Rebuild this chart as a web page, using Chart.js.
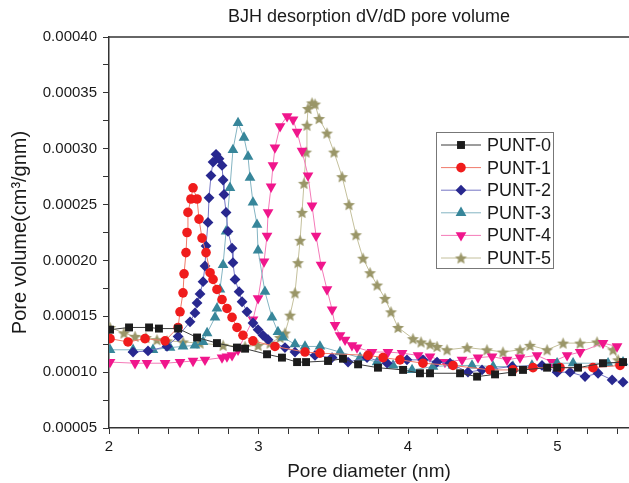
<!DOCTYPE html>
<html>
<head>
<meta charset="utf-8">
<script src="https://cdn.jsdelivr.net/npm/chart.js@4.4.0/dist/chart.umd.min.js"></script>
<style>
  html, body { margin: 0; padding: 0; background: #fff; }
</style>
</head>
<body>
<canvas id="chart" width="629" height="483"></canvas>
<script>
var seriesNames = ['PUNT-0', 'PUNT-1', 'PUNT-2', 'PUNT-3', 'PUNT-4', 'PUNT-5'];

var punt0X = [2.007, 2.134, 2.268, 2.334, 2.462, 2.589, 2.722, 2.856, 2.910, 3.057, 3.157, 3.258, 3.318, 3.465, 3.565,
  3.666, 3.799, 3.967, 4.080, 4.147, 4.348, 4.462, 4.582, 4.696, 4.769, 4.930, 4.997, 5.137, 5.304, 5.438];
var punt0Y = [0.000138, 0.000140, 0.000140, 0.000139, 0.000139, 0.000131, 0.000126, 0.000122, 0.000121, 0.000116, 0.000113,
  0.000109, 0.000109, 0.000110, 0.000112, 0.000107, 0.000104, 0.000102, 0.000099, 0.000099, 0.000099, 0.000096, 0.000098,
  0.000100, 0.000102, 0.000104, 0.000104, 0.000104, 0.000108, 0.000109];

var punt1X = [2.007, 2.127, 2.241, 2.375, 2.462, 2.475, 2.495, 2.502, 2.515, 2.522, 2.528, 2.548, 2.562, 2.589, 2.602,
  2.622, 2.649, 2.676, 2.696, 2.722, 2.756, 2.789, 2.823, 2.856, 2.896, 2.963, 3.110, 3.311, 3.411, 3.732, 3.833, 3.946,
  4.100, 4.301, 4.548, 4.702, 4.836, 5.017, 5.237, 5.418];
var punt1Y = [0.000130, 0.000127, 0.000130, 0.000128, 0.000140, 0.000154, 0.000171, 0.000188, 0.000207, 0.000225, 0.000243,
  0.000255, 0.000265, 0.000255, 0.000237, 0.000220, 0.000207, 0.000189, 0.000183, 0.000174, 0.000165, 0.000157, 0.000149,
  0.000140, 0.000133, 0.000128, 0.000123, 0.000118, 0.000117, 0.000115, 0.000113, 0.000111, 0.000108, 0.000106, 0.000102,
  0.000102, 0.000104, 0.000104, 0.000104, 0.000106];

var punt2X = [2.161, 2.261, 2.388, 2.462, 2.542, 2.575, 2.589, 2.609, 2.629, 2.642, 2.649, 2.662, 2.669, 2.682, 2.696,
  2.716, 2.736, 2.756, 2.763, 2.769, 2.783, 2.796, 2.823, 2.829, 2.843, 2.870, 2.890, 2.923, 2.963, 2.997, 3.030, 3.064,
  3.177, 3.244, 3.378, 3.492, 3.599, 3.726, 3.860, 3.993, 4.100, 4.194, 4.281, 4.401, 4.495, 4.696, 4.896, 4.997, 5.084,
  5.184, 5.271, 5.365, 5.438];
var punt2Y = [0.000118, 0.000119, 0.000123, 0.000132, 0.000145, 0.000153, 0.000162, 0.000170, 0.000181, 0.000195, 0.000213,
  0.000234, 0.000256, 0.000276, 0.000288, 0.000295, 0.000291, 0.000285, 0.000272, 0.000259, 0.000243, 0.000226, 0.000211,
  0.000198, 0.000183, 0.000172, 0.000163, 0.000154, 0.000144, 0.000138, 0.000133, 0.000129, 0.000122, 0.000118, 0.000115,
  0.000113, 0.000109, 0.000113, 0.000108, 0.000111, 0.000111, 0.000109, 0.000108, 0.000100, 0.000102, 0.000105, 0.000106,
  0.000100, 0.000100, 0.000096, 0.000099, 0.000093, 0.000091];

var punt3X = [2.007, 2.161, 2.294, 2.408, 2.495, 2.575, 2.629, 2.656, 2.709, 2.722, 2.742, 2.763, 2.783, 2.809, 2.829,
  2.863, 2.903, 2.930, 2.943, 2.963, 2.990, 2.997, 3.043, 3.090, 3.130, 3.164, 3.244, 3.311, 3.411, 3.545, 3.679, 3.793,
  3.900, 4.027, 4.167, 4.301, 4.428, 4.569, 4.702, 4.829, 4.997, 5.104, 5.338, 5.438];
var punt3Y = [0.000120, 0.000120, 0.000120, 0.000122, 0.000123, 0.000124, 0.000127, 0.000135, 0.000149, 0.000157, 0.000174,
  0.000196, 0.000226, 0.000265, 0.000299, 0.000323, 0.000310, 0.000293, 0.000274, 0.000252, 0.000232, 0.000209, 0.000172,
  0.000149, 0.000136, 0.000131, 0.000125, 0.000123, 0.000123, 0.000118, 0.000113, 0.000109, 0.000106, 0.000102, 0.000105,
  0.000106, 0.000106, 0.000105, 0.000105, 0.000106, 0.000108, 0.000108, 0.000108, 0.000109];

var punt4X = [2.007, 2.174, 2.254, 2.375, 2.475, 2.562, 2.642, 2.756, 2.789, 2.823, 2.863, 2.963, 2.997, 3.037, 3.057,
  3.064, 3.084, 3.097, 3.110, 3.144, 3.191, 3.231, 3.258, 3.291, 3.331, 3.358, 3.385, 3.418, 3.458, 3.492, 3.512, 3.545,
  3.579, 3.625, 3.659, 3.759, 3.866, 3.960, 4.067, 4.147, 4.247, 4.361, 4.468, 4.562, 4.662, 4.749, 4.863, 4.963, 5.064,
  5.151, 5.304, 5.398];
var punt4Y = [0.000109, 0.000108, 0.000108, 0.000108, 0.000109, 0.000110, 0.000111, 0.000113, 0.000114, 0.000115, 0.000120,
  0.000147, 0.000166, 0.000199, 0.000222, 0.000243, 0.000266, 0.000285, 0.000301, 0.000320, 0.000329, 0.000326, 0.000315,
  0.000298, 0.000276, 0.000249, 0.000222, 0.000196, 0.000174, 0.000156, 0.000142, 0.000133, 0.000129, 0.000124, 0.000122,
  0.000118, 0.000118, 0.000117, 0.000115, 0.000114, 0.000109, 0.000111, 0.000113, 0.000114, 0.000111, 0.000113, 0.000115,
  0.000109, 0.000115, 0.000118, 0.000126, 0.000123];

var punt5X = [2.007, 2.100, 2.174, 2.247, 2.321, 2.388, 2.495, 2.609, 2.763, 2.910, 2.997, 3.077, 3.144, 3.177, 3.211,
  3.244, 3.264, 3.278, 3.291, 3.304, 3.318, 3.324, 3.331, 3.358, 3.378, 3.405, 3.458, 3.505, 3.559, 3.605, 3.652, 3.699,
  3.746, 3.793, 3.846, 3.886, 3.933, 4.033, 4.087, 4.147, 4.194, 4.261, 4.395, 4.528, 4.635, 4.749, 4.816, 4.930, 5.037,
  5.151, 5.264, 5.371, 5.405];
var punt5Y = [0.000140, 0.000135, 0.000132, 0.000131, 0.000129, 0.000128, 0.000127, 0.000126, 0.000124, 0.000123, 0.000124,
  0.000126, 0.000131, 0.000135, 0.000151, 0.000171, 0.000198, 0.000218, 0.000243, 0.000269, 0.000297, 0.000321, 0.000336,
  0.000341, 0.000340, 0.000327, 0.000314, 0.000297, 0.000275, 0.000250, 0.000223, 0.000202, 0.000189, 0.000178, 0.000166,
  0.000154, 0.000140, 0.000130, 0.000127, 0.000125, 0.000123, 0.000120, 0.000122, 0.000120, 0.000118, 0.000120, 0.000124,
  0.000120, 0.000126, 0.000126, 0.000127, 0.000120, 0.000111];

var xMin = 2, xMax = 5.478, xStep = 0.2;
var yMin = 0.00005, yMax = 0.0004, yStep = 0.000025;

var fontFamily = 'Arial, "Liberation Sans", Helvetica, sans-serif';

var toPoints = function (xs, ys) {
  return xs.map(function (x, i) { return {x: x, y: ys[i]}; });
};

// filled five point star, Chart.js only has the stroked one
var makeStar = function (color, r) {
  var c = document.createElement('canvas');
  var s = Math.ceil(r * 2 + 2);
  c.width = s;
  c.height = s;
  var g = c.getContext('2d');
  g.fillStyle = color;
  g.beginPath();
  for (var i = 0; i < 10; i++) {
    var rr = i % 2 === 0 ? r : r * 0.45;
    var a = -Math.PI / 2 + i * Math.PI / 5;
    var px = s / 2 + rr * Math.cos(a);
    var py = s / 2 + 0.6 + rr * Math.sin(a);
    if (i === 0) { g.moveTo(px, py); } else { g.lineTo(px, py); }
  }
  g.closePath();
  g.fill();
  return c;
};

var makeDataset = function (i, xs, ys, lineColor, pointColor, style, radius, rotation) {
  return {
    label: seriesNames[i],
    data: toPoints(xs, ys),
    borderColor: lineColor,
    borderWidth: 1,
    backgroundColor: pointColor,
    pointBackgroundColor: pointColor,
    pointBorderWidth: 0,
    pointStyle: style,
    pointRadius: radius,
    pointHoverRadius: radius,
    pointRotation: rotation || 0,
    tension: 0,
    fill: false
  };
};

var datasets = [
  makeDataset(0, punt0X, punt0Y, '#3a3a3a', '#1c1c1c', 'rect', 5.6),
  makeDataset(1, punt1X, punt1Y, '#f07a6a', '#f01c1c', 'circle', 4.8),
  makeDataset(2, punt2X, punt2Y, '#7474c4', '#28288f', 'rectRot', 5.4),
  makeDataset(3, punt3X, punt3Y, '#84b4c2', '#37869a', 'triangle', 6.2),
  makeDataset(4, punt4X, punt4Y, '#f47ab8', '#f0168c', 'triangle', 6.2, 180),
  makeDataset(5, punt5X, punt5Y, '#c4c09c', '#9a9668', makeStar('#9a9668', 6.3), 6.3)
];

var framePlugin = {
  id: 'frameAndLegend',
  beforeDatasetsDraw: function (chart) {
    var ctx = chart.ctx;
    var area = chart.chartArea;
    ctx.save();
    ctx.strokeStyle = '#333';
    ctx.lineWidth = 1.5;
    ctx.beginPath();
    ctx.moveTo(area.left, area.top);
    ctx.lineTo(area.right, area.top);
    ctx.stroke();
    ctx.restore();
  },
  afterDraw: function (chart) {
    var ctx = chart.ctx;
    var boxX = 436, boxY = 132, boxW = 117, boxH = 136;
    ctx.save();
    ctx.fillStyle = '#fff';
    ctx.fillRect(boxX, boxY, boxW, boxH);
    ctx.strokeStyle = '#777';
    ctx.lineWidth = 1;
    ctx.strokeRect(boxX + 0.5, boxY + 0.5, boxW, boxH);
    chart.data.datasets.forEach(function (ds, i) {
      var y = boxY + 13 + i * 22.6;
      ctx.strokeStyle = ds.borderColor;
      ctx.lineWidth = 1;
      ctx.beginPath();
      ctx.moveTo(boxX + 5, y);
      ctx.lineTo(boxX + 45, y);
      ctx.stroke();
      ctx.fillStyle = ds.pointBackgroundColor;
      Chart.helpers.drawPoint(ctx, {
        pointStyle: ds.pointStyle,
        rotation: ds.pointRotation,
        radius: ds.pointRadius,
        borderWidth: 0
      }, boxX + 25, y);
      ctx.fillStyle = '#1a1a1a';
      ctx.font = '18px ' + fontFamily;
      ctx.textAlign = 'left';
      ctx.textBaseline = 'middle';
      ctx.fillText(ds.label, boxX + 51, y + 1);
    });
    ctx.restore();
  }
};

var canvas = document.getElementById('chart');
var chart = new Chart(canvas.getContext('2d'), {
  type: 'line',
  data: {datasets: datasets},
  plugins: [framePlugin],
  options: {
    responsive: false,
    animation: false,
    devicePixelRatio: 1,
    layout: {padding: 0, autoPadding: false},
    plugins: {
      legend: {display: false},
      tooltip: {enabled: false},
      title: {
        display: true,
        text: 'BJH desorption dV/dD pore volume',
        fullSize: false,
        color: '#1a1a1a',
        font: {size: 18, weight: 'normal', family: fontFamily, lineHeight: 1.2},
        padding: {top: 6, bottom: 9.4}
      }
    },
    scales: {
      x: {
        type: 'linear',
        min: xMin,
        max: xMax,
        ticks: {
          stepSize: xStep,
          includeBounds: false,
          autoSkip: false,
          maxRotation: 0,
          padding: 4,
          color: '#1a1a1a',
          font: {size: 15, family: fontFamily},
          callback: function (v) {
            return Math.abs(v - Math.round(v)) < 1e-6 ? String(Math.round(v)) : '';
          }
        },
        grid: {drawOnChartArea: false, drawTicks: true, tickLength: 6, color: '#333'},
        border: {display: true, color: '#333', width: 1.5},
        title: {
          display: true,
          text: 'Pore diameter (nm)',
          color: '#1a1a1a',
          font: {size: 19, family: fontFamily, lineHeight: 1.2},
          padding: {top: 0, bottom: 0}
        },
        afterFit: function (scale) {
          scale.height = 55;
          scale.paddingLeft = 0;
          scale.paddingRight = 0;
        }
      },
      y: {
        type: 'linear',
        min: yMin,
        max: yMax,
        ticks: {
          stepSize: yStep,
          autoSkip: false,
          padding: 6,
          color: '#1a1a1a',
          font: {size: 15, family: fontFamily},
          callback: function (v) {
            var k = v / 0.00005;
            return Math.abs(k - Math.round(k)) < 1e-6 ? v.toFixed(5) : '';
          }
        },
        grid: {drawOnChartArea: false, drawTicks: true, tickLength: 6, color: '#333'},
        border: {display: true, color: '#333', width: 1.5},
        title: {
          display: true,
          text: 'Pore volume(cm³/gnm)',
          color: '#1a1a1a',
          font: {size: 20, family: fontFamily, lineHeight: 1.2},
          padding: {top: 8, bottom: 0}
        },
        afterFit: function (scale) { scale.width = 109; }
      }
    }
  }
});
</script>
</body>
</html>
